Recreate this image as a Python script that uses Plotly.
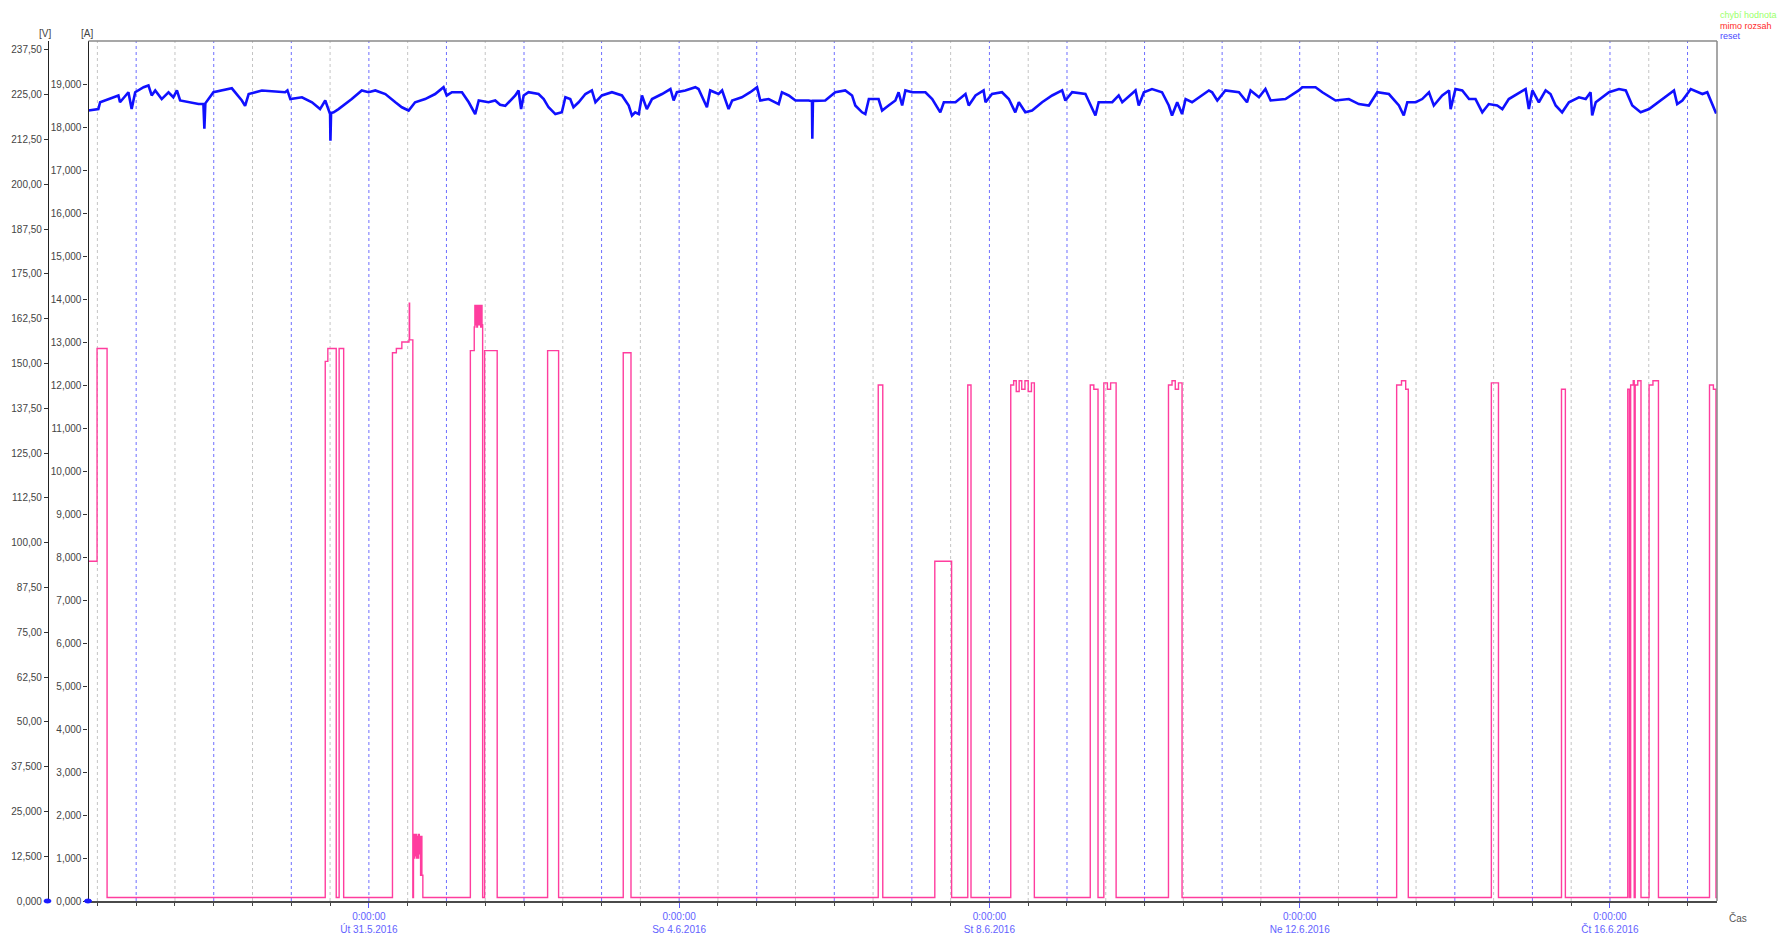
import plotly.graph_objects as go
import pandas as pd

# ---------------- data ----------------
T0 = pd.Timestamp("2016-05-27 10:00")          # reference time for the hour offsets
X_START = "2016-05-27 09:15"
X_END = "2016-06-17 09:07"

# voltage [V]  (hours after T0, value)
volt_h = [-0.75, 2.3, 2.85, 8.5, 9.0, 11.6, 12.6, 13.7, 16.3, 17.8, 18.8, 19.9, 21.9, 24.0, 25.5,
          26.6, 27.6, 33.3, 34.8, 35.1, 35.4, 37.9, 43.6, 46.7, 47.7, 48.8, 52.9, 60.1, 60.8, 61.7,
          65.3, 68.4, 70.9, 72.5, 74.0, 74.1, 74.3, 75.1, 76.6, 80.7, 83.8, 85.9, 88.0, 91.1, 94.2,
          96.2, 98.3, 100.3, 103.4, 106.5, 109.1, 110.1, 111.7, 114.8, 116.9, 118.9, 120.0, 123.0,
          125.1, 126.6, 128.2, 129.2, 131.3, 132.3, 133.1, 133.9, 135.4, 138.5, 140.1, 141.6, 143.7,
          145.7, 146.8, 148.3, 149.3, 150.9, 153.0, 155.0, 156.1, 158.1, 161.2, 164.3, 166.4, 167.4,
          168.4, 169.5, 170.5, 172.0, 173.6, 176.7, 179.3, 180.3, 181.3, 183.9, 187.0, 188.0, 190.6,
          191.6, 194.2, 195.3, 197.3, 198.4, 201.4, 204.0, 206.1, 207.1, 209.7, 212.8, 213.8, 215.9,
          218.0, 222.1, 223.1, 223.2, 223.4, 227.2, 230.3, 233.4, 235.5, 236.5, 238.6, 239.6, 240.7,
          243.7, 244.8, 246.8, 248.9, 249.9, 251.0, 252.0, 254.1, 258.2, 260.3, 262.8, 263.9, 267.5,
          270.6, 271.6, 273.7, 276.2, 276.8, 278.8, 281.9, 284.0, 286.0, 287.1, 289.1, 291.2, 294.3,
          297.4, 300.5, 301.5, 303.6, 307.7, 309.8, 310.8, 311.8, 316.0, 318.0, 319.1, 323.2, 324.2,
          325.8, 328.3, 331.4, 333.5, 334.5, 336.1, 337.6, 338.7, 340.7, 342.8, 345.9, 346.9, 348.5,
          351.0, 355.2, 357.7, 358.8, 361.4, 363.4, 365.0, 369.6, 373.7, 374.8, 378.9, 381.0, 385.1,
          389.2, 392.3, 395.4, 398.0, 401.6, 404.7, 406.2, 407.3, 409.9, 411.9, 414.0, 415.5, 418.1,
          420.2, 420.7, 422.2, 424.3, 426.4, 428.4, 430.5, 432.5, 435.1, 436.7, 438.7, 443.9, 444.9,
          446.0, 448.0, 450.1, 451.6, 453.2, 455.2, 457.3, 460.4, 462.5, 464.0, 464.5, 465.6, 469.7,
          472.8, 474.9, 476.9, 479.5, 482.1, 486.2, 489.8, 490.8, 492.4, 495.0, 498.6, 500.1, 502.7,
          503.2]
volt_v = [220.6, 221.0, 222.9, 224.8, 222.9, 225.7, 221.0, 225.7, 227.1, 227.6, 224.8, 226.2, 223.8, 225.7, 224.3,
          226.2, 223.4, 222.4, 222.4, 215.5, 222.6, 225.7, 226.8, 223.4, 221.9, 225.2, 226.2, 225.7, 226.2, 223.8,
          224.3, 222.9, 221.0, 223.4, 219.6, 212.2, 219.9, 220.1, 221.0, 223.8, 226.2, 225.7, 226.2, 225.2, 222.9,
          221.5, 220.6, 222.9, 223.8, 225.2, 227.1, 224.8, 225.7, 225.7, 222.9, 219.6, 223.4, 222.9,
          223.4, 222.2, 221.9, 222.9, 224.8, 226.2, 221.0, 224.8, 225.7, 225.2, 223.8, 221.5, 219.6,
          220.1, 224.3, 223.8, 221.5, 222.9, 225.2, 226.2, 222.9, 224.8, 225.7, 224.8, 222.0, 219.2,
          220.1, 219.6, 224.8, 221.0, 223.8, 225.2, 226.6, 223.4, 225.7, 226.2, 227.1, 226.6, 221.5,
          226.2, 225.2, 226.2, 221.0, 223.4, 224.3, 225.7, 227.1, 223.4, 223.8, 222.4, 225.7, 224.8,
          223.4, 223.4, 223.2, 212.7, 223.3, 223.4, 225.7, 226.2, 224.8, 222.0, 220.1, 219.6, 223.8,
          223.8, 220.6, 222.0, 223.4, 225.7, 222.0, 226.2, 225.7, 225.7, 223.8, 220.1, 222.9, 222.9,
          225.2, 222.0, 224.8, 226.2, 222.9, 225.2, 225.7, 223.8, 220.1, 222.9, 220.1, 220.6, 222.9,
          224.8, 226.2, 223.4, 225.7, 225.2, 221.0, 219.2, 222.9, 222.9, 224.8, 222.9, 226.2, 222.0,
          225.7, 226.6, 225.7, 222.0, 219.2, 222.9, 219.6, 223.8, 222.9, 224.3, 226.2, 225.7, 223.4,
          226.2, 225.7, 222.9, 226.2, 224.3, 226.6, 223.4, 223.8, 226.2, 227.1, 227.1, 225.7, 223.4,
          223.8, 222.4, 222.0, 225.7, 225.2, 222.0, 219.2, 222.9, 222.9, 223.8, 225.7, 222.0, 224.8,
          226.2, 221.0, 226.6, 226.2, 223.8, 223.8, 220.1, 222.4, 222.0, 221.0, 223.8, 226.6, 221.0,
          226.2, 222.9, 226.2, 225.2, 222.0, 220.1, 222.9, 224.3, 223.8, 225.7, 219.2, 222.9, 225.7,
          226.6, 226.2, 222.0, 220.1, 221.0, 223.8, 226.2, 222.4, 223.4, 226.6, 225.2, 225.7, 220.1,
          220.3]

# current [A]  (step changes: hours after T0, value held until next point)
curr_h = [-0.75, 1.9, 5.0,
          72.5, 73.3, 75.9, 76.8, 78.2,
          93.3, 94.5, 96.2, 98.4, 98.5, 98.6, 99.6,
          99.8, 100.0, 100.2, 100.4, 100.6, 100.8, 101.0, 101.2, 101.4, 101.6, 101.8, 102.0, 102.2, 102.4, 102.7,
          117.4, 118.6, 118.8, 119.0, 119.2, 119.4, 119.6, 119.8, 120.0, 120.2, 120.4, 120.6, 120.8, 121.0, 121.2,
          121.8, 125.7,
          141.3, 144.7,
          164.7, 167.1,
          243.6, 245.0,
          261.1, 266.3,
          271.3, 272.3,
          284.6, 285.5, 286.3, 287.2, 288.0, 289.0, 290.0, 291.0, 291.9,
          309.2, 310.3, 311.6,
          313.4, 314.5, 315.5, 317.2,
          333.4, 334.5, 335.5, 336.5, 337.6,
          404.0, 405.5, 406.8, 407.6,
          433.3, 435.5,
          455.0, 456.2,
          475.5, 476.0, 476.4, 477.2, 477.5, 477.8, 478.6, 479.6,
          482.1, 483.3, 485.0,
          500.8, 502.0, 502.8, 503.2]
curr_a = [7.9, 12.85, 0.08,
          12.55, 12.85, 0.08, 12.85, 0.08,
          12.75, 12.85, 13.0, 13.05, 13.9, 13.05, 0.08,
          1.55, 1.0, 1.55, 1.05, 1.55, 1.0, 1.5, 1.0, 1.55, 1.1, 1.5, 0.6, 1.5, 0.6, 0.08,
          12.8, 13.35, 13.85, 13.4, 13.85, 13.35, 13.85, 13.4, 13.85, 13.4, 13.85, 13.35, 13.85, 13.4, 0.08,
          12.8, 0.08,
          12.8, 0.08,
          12.75, 0.08,
          12.0, 0.08,
          7.9, 0.08,
          12.0, 0.08,
          12.0, 12.1, 11.85, 12.1, 11.9, 12.1, 11.85, 12.05, 0.08,
          12.0, 11.9, 0.08,
          12.05, 11.9, 12.05, 0.08,
          12.0, 12.1, 11.9, 12.05, 0.08,
          12.0, 12.1, 11.9, 0.08,
          12.05, 0.08,
          11.9, 0.08,
          11.9, 0.08, 12.0, 12.1, 0.08, 12.0, 12.1, 0.08,
          12.0, 12.1, 0.08,
          12.0, 11.9, 0.08, 0.08]

v_tickvals = [0, 12.5, 25, 37.5, 50, 62.5, 75, 87.5, 100, 112.5, 125, 137.5, 150, 162.5, 175,
              187.5, 200, 212.5, 225, 237.5]
v_ticktext = ["0,000", "12,500", "25,000", "37,500", "50,00", "62,50", "75,00", "87,50", "100,00",
              "112,50", "125,00", "137,50", "150,00", "162,50", "175,00", "187,50", "200,00",
              "212,50", "225,00", "237,50"]
a_tickvals = list(range(0, 20))
a_ticktext = ["0,000", "1,000", "2,000", "3,000", "4,000", "5,000", "6,000", "7,000", "8,000",
              "9,000", "10,000", "11,000", "12,000", "13,000", "14,000", "15,000", "16,000",
              "17,000", "18,000", "19,000"]
x_tickvals = ["2016-05-31", "2016-06-04", "2016-06-08", "2016-06-12", "2016-06-16"]
x_ticktext = ["0:00:00<br>Út 31.5.2016", "0:00:00<br>So 4.6.2016", "0:00:00<br>St 8.6.2016",
              "0:00:00<br>Ne 12.6.2016", "0:00:00<br>Čt 16.6.2016"]
legend_labels = ["chybí hodnota", "mimo rozsah", "reset"]
legend_colors = ["#9cff6a", "#ff2a2a", "#4a4aff"]

# ---------------- figure ----------------
W, H = 1780, 938
ML, MR, MT, MB = 48, 63, 41, 37
PW = W - ML - MR
PH = H - MT - MB
XDOM0 = (88.5 - ML) / PW
FONT = "Liberation Sans, Arial, sans-serif"

volt_x = [T0 + pd.Timedelta(hours=h) for h in volt_h]
curr_x = [T0 + pd.Timedelta(hours=h) for h in curr_h]

fig = go.Figure()
fig.add_trace(go.Scatter(x=curr_x, y=curr_a, mode="lines", line=dict(color="#ff3d9e", width=1.4, shape="hv"),
                         yaxis="y", showlegend=False, hoverinfo="skip"))
fig.add_trace(go.Scatter(x=volt_x, y=volt_v, mode="lines", line=dict(color="#1010ff", width=2.6),
                         yaxis="y2", showlegend=False, hoverinfo="skip"))

shapes = []
for d in pd.date_range("2016-05-27 12:00", "2016-06-16 12:00", freq="D"):
    shapes.append(dict(type="line", xref="x", yref="paper", x0=d, x1=d, y0=0, y1=1, layer="below",
                       line=dict(color="#c4c4c4", width=1, dash="dot")))
for d in pd.date_range("2016-05-28", "2016-06-17", freq="D"):
    shapes.append(dict(type="line", xref="x", yref="paper", x0=d, x1=d, y0=0, y1=1, layer="below",
                       line=dict(color="#6e6eff", width=1, dash="dot")))
# plot frame (top/right)
shapes.append(dict(type="line", xref="paper", yref="paper", x0=XDOM0, x1=1, y0=1, y1=1,
                   line=dict(color="#8a8a8a", width=1.5)))
shapes.append(dict(type="line", xref="paper", yref="paper", x0=1, x1=1, y0=0, y1=1,
                   line=dict(color="#8a8a8a", width=1.5)))
# blue zero markers on both value axes
for xp in (0, XDOM0):
    shapes.append(dict(type="circle", xref="paper", yref="paper", xsizemode="pixel", ysizemode="pixel",
                       xanchor=xp, yanchor=0, x0=-4, x1=3, y0=-2, y1=2,
                       fillcolor="#1a1aff", line=dict(color="#1a1aff", width=1)))

annotations = [
    dict(text="[V]", xref="paper", yref="paper", x=0, y=1, xanchor="center", yanchor="middle",
         xshift=-3, yshift=8, showarrow=False, font=dict(size=10, color="#444", family=FONT)),
    dict(text="[A]", xref="paper", yref="paper", x=XDOM0, y=1, xanchor="center", yanchor="middle",
         xshift=-2, yshift=8, showarrow=False, font=dict(size=10, color="#444", family=FONT)),
    dict(text="Čas", xref="paper", yref="paper", x=1, y=0, xanchor="center", yanchor="middle",
         xshift=21, yshift=-17, showarrow=False, font=dict(size=10, color="#555", family=FONT)),
]
for i, (lab, col) in enumerate(zip(legend_labels, legend_colors)):
    annotations.append(dict(text=lab, xref="paper", yref="paper", x=1, y=1, xanchor="left",
                            yanchor="middle", xshift=1, yshift=26 - 10.5 * i, showarrow=False,
                            font=dict(size=9, color=col, family=FONT)))

fig.update_layout(
    template="none",
    width=W, height=H, autosize=False,
    margin=dict(l=ML, r=MR, t=MT, b=MB, pad=0),
    paper_bgcolor="white", plot_bgcolor="white",
    font=dict(family=FONT, size=10, color="#444"),
    xaxis=dict(domain=[XDOM0, 1], type="date", range=[X_START, X_END], automargin=False,
               tickmode="array", tickvals=x_tickvals, ticktext=x_ticktext,
               ticks="outside", ticklen=5, tickcolor="#5a5aff", tickwidth=1,
               tickfont=dict(size=10, color="#6262ff", family=FONT),
               showgrid=False, zeroline=False, showline=True, linecolor="#4a4a4a", linewidth=1.5,
               minor=dict(tickmode="linear", tick0="2016-05-27 12:00", dtick=12 * 3600 * 1000,
                          ticks="outside", ticklen=3, tickcolor="#444", tickwidth=1, showgrid=False),
               fixedrange=True),
    yaxis=dict(range=[0, 20], anchor="x", side="left", tickmode="array", automargin=False,
               tickvals=a_tickvals, ticktext=a_ticktext, ticks="outside", ticklen=4,
               tickcolor="#333", tickfont=dict(size=10, color="#444", family=FONT),
               showgrid=False, zeroline=False, showline=True, linecolor="#222", linewidth=1.2,
               fixedrange=True),
    yaxis2=dict(range=[0, 240], overlaying="y", anchor="free", position=0, side="left",
                automargin=False,
                tickmode="array", tickvals=v_tickvals, ticktext=v_ticktext, ticks="outside",
                ticklen=4, tickcolor="#333", tickfont=dict(size=10, color="#444", family=FONT),
                showgrid=False, zeroline=False, showline=True, linecolor="#222", linewidth=1.2,
                fixedrange=True),
    shapes=shapes,
    annotations=annotations,
    showlegend=False,
)

fig.write_html("out.html", include_plotlyjs=True, config={"displayModeBar": False},
               post_script="document.body.style.margin='0px';document.body.style.overflow='hidden';")
